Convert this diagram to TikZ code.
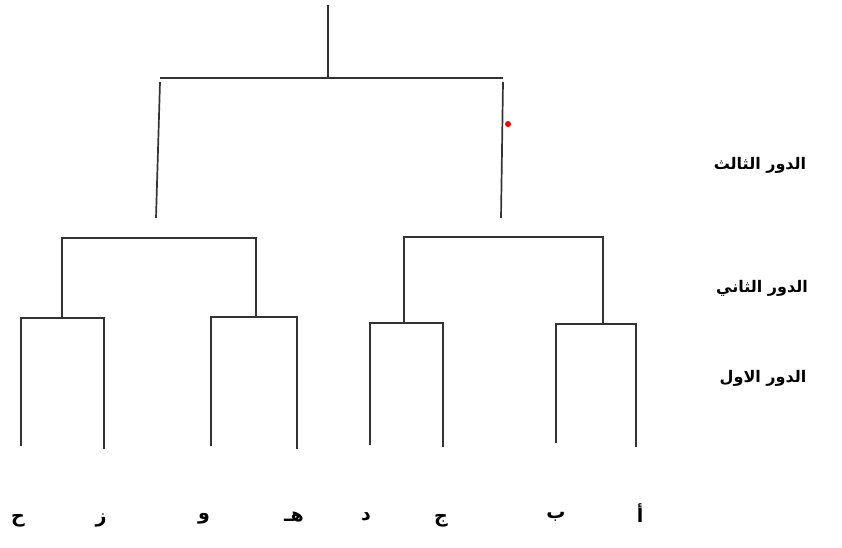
\documentclass[tikz,border=0pt]{standalone}
\usepackage{fontspec}
\TeXXeTstate=1
\newfontfamily\arabicfont[Script=Arabic]{DejaVu Sans}
\usetikzlibrary{positioning}

\begin{document}
\begin{tikzpicture}[x=1pt, y=-1pt,
    branch/.style={line width=1.7pt, black!80},
    letter/.style={font=\arabicfont\bfseries\fontsize{19}{21}\selectfont},
    roundlabel/.style={font=\arabicfont\bfseries\fontsize{16}{18}\selectfont}]
    \useasboundingbox (0,0) rectangle (842,547);

    % Leaves
    \coordinate (l1) at (21,446);
    \coordinate (l2) at (104,449);
    \coordinate (l3) at (211,446);
    \coordinate (l4) at (297,449);
    \coordinate (l5) at (370,445);
    \coordinate (l6) at (443,447);
    \coordinate (l7) at (556,443);
    \coordinate (l8) at (636,447);

    % First round
    \coordinate (c1) at (62,318);
    \coordinate (c2) at (256,317);
    \coordinate (c3) at (404,323);
    \coordinate (c4) at (603,324);
    \draw[branch] (l1) |- (c1) -| (l2);
    \draw[branch] (l3) |- (c2) -| (l4);
    \draw[branch] (l5) |- (c3) -| (l6);
    \draw[branch] (l7) |- (c4) -| (l8);

    % Second round
    \coordinate (d1) at (156,238);
    \coordinate (d2) at (501,237);
    \draw[branch] (c1) |- (d1) -| (c2);
    \draw[branch] (c3) |- (d2) -| (c4);

    % Third round
    \coordinate (e1) at (156,218);
    \coordinate (e2) at (501,218);
    \coordinate (f1) at (160,82);
    \coordinate (f2) at (503,82);
    \draw[branch] (e1) -- (f1);
    \draw[branch] (e2) -- (f2);
    \coordinate (t1) at (160,78);
    \coordinate (t2) at (503,78);
    \draw[branch] (t1) -- (t2);
    \coordinate (root) at (328,5);
    \coordinate (top) at (328,77);
    \draw[branch] (root) -- (top);

    % Red dot
    \coordinate (dot) at (508,124);
    \fill[red] (dot) circle (3pt);

    % Letters
    \node[letter] (ha)   at (18,521)  {\beginR ح\endR};
    \node[letter] (zay)  at (101,520) {\beginR ز\endR};
    \node[letter] (waw)  at (204,519) {\beginR و\endR};
    \node[letter] (heh)  at (294,517) {\beginR هـ\endR};
    \node[letter] (dal)  at (366,517) {\beginR د\endR};
    \node[letter] (jim)  at (441,521) {\beginR ج\endR};
    \node[letter] (ba)   at (556,517) {\beginR ب\endR};
    \node[letter] (alif) at (640,513) {\beginR أ\endR};

    % Round labels
    \node[roundlabel] (third)  at (760,165) {\beginR الدور الثالث\endR};
    \node[roundlabel] (second) at (762,288) {\beginR الدور الثاني\endR};
    \node[roundlabel] (first)  at (763,378) {\beginR الدور الاول\endR};
\end{tikzpicture}
\end{document}
